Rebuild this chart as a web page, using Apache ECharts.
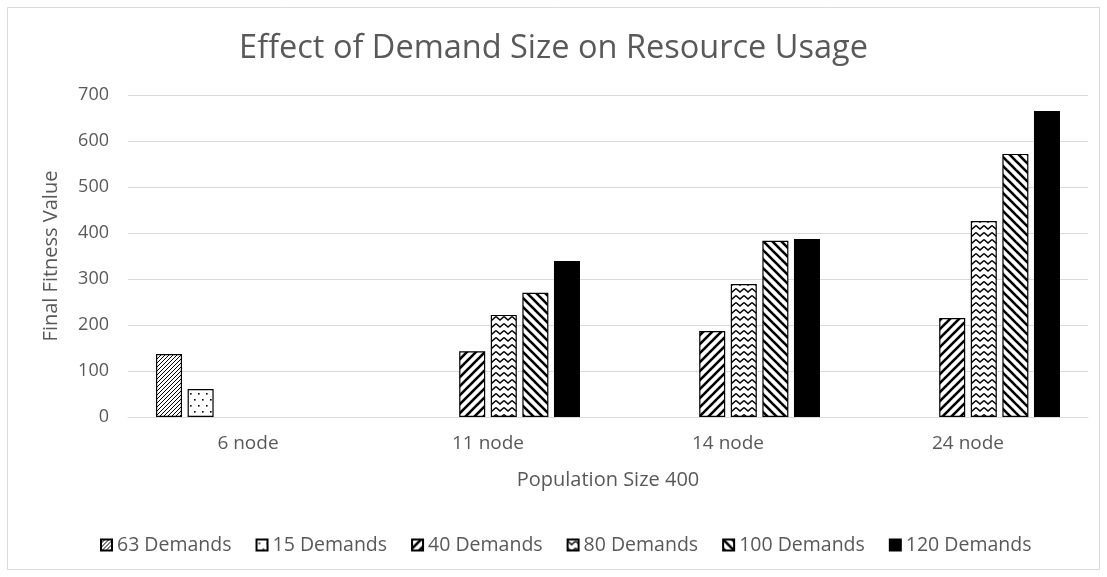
<!DOCTYPE html>
<html>
<head>
<meta charset="utf-8">
<script src="https://cdn.jsdelivr.net/npm/echarts@6/dist/echarts.min.js"></script>
<style>
  html, body { margin: 0; padding: 0; background: #fff; }
  #chart { width: 1107px; height: 577px; }
</style>
</head>
<body>
<div id="chart"></div>
<script>
// Network sizes on the x axis
const categories = ['6 node', '11 node', '14 node', '24 node'];

// Final fitness value per demand set (null where a network was not run)
const demands63  = [137, null, null, null];
const demands15  = [61, null, null, null];
const demands40  = [null, 143, 187, 215];
const demands80  = [null, 222, 289, 426];
const demands100 = [null, 270, 383, 572];
const demands120 = [null, 339, 387, 665];

const yTicks = { min: 0, max: 700, interval: 100 };

// ---- hatch fills drawn on small tiles ----
function tile(w, h, draw) {
  const c = document.createElement('canvas');
  c.width = w; c.height = h;
  const g = c.getContext('2d');
  g.fillStyle = '#fff';
  g.fillRect(0, 0, w, h);
  g.strokeStyle = '#000';
  g.fillStyle = '#000';
  draw(g, w, h);
  return { image: c, repeat: 'repeat' };
}
function diagonal(size, width, rising) {
  return tile(size, size, (g, s) => {
    g.lineWidth = width;
    g.lineCap = 'square';
    for (let k = -1; k <= 1; k++) {
      g.beginPath();
      if (rising) { g.moveTo(k * s, s); g.lineTo(k * s + s, 0); }
      else { g.moveTo(k * s, 0); g.lineTo(k * s + s, s); }
      g.stroke();
    }
  });
}
const fineHatch = diagonal(4, 1, true);
const wideUp = diagonal(9, 2.6, true);
const wideDown = diagonal(9, 2.6, false);
const dots = tile(8, 12, (g) => {
  g.fillRect(2, 3, 1.6, 1.6);
  g.fillRect(6, 9, 1.6, 1.6);
});
const zigzag = tile(8, 7, (g) => {
  g.lineWidth = 1.4;
  g.beginPath();
  g.moveTo(0, 1.5); g.lineTo(4, 5); g.lineTo(8, 1.5);
  g.stroke();
});

const seriesDefs = [
  { name: '63 Demands', data: demands63, fill: fineHatch },
  { name: '15 Demands', data: demands15, fill: dots },
  { name: '40 Demands', data: demands40, fill: wideUp },
  { name: '80 Demands', data: demands80, fill: zigzag },
  { name: '100 Demands', data: demands100, fill: wideDown },
  { name: '120 Demands', data: demands120, fill: '#000' }
];

const textColor = '#595959';
const font = 'Open Sans';

const chart = echarts.init(document.getElementById('chart'), null, { renderer: 'canvas' });
chart.setOption({
  animation: false,
  backgroundColor: '#fff',
  title: {
    text: 'Effect of Demand Size on Resource Usage',
    left: 'center',
    top: 27,
    textStyle: { color: textColor, fontFamily: font, fontSize: 32.5, fontWeight: 'normal' }
  },
  legend: {
    left: 95,
    top: 530,
    itemWidth: 11,
    itemHeight: 11,
    itemGap: 24,
    icon: 'rect',
    textStyle: { color: textColor, fontFamily: font, fontSize: 19.5 },
    data: seriesDefs.map(s => s.name)
  },
  grid: { left: 128, right: 19, top: 95, bottom: 160, containLabel: false },
  xAxis: {
    type: 'category',
    data: categories,
    name: 'Population Size 400',
    nameLocation: 'middle',
    nameGap: 53,
    nameTextStyle: { color: textColor, fontFamily: font, fontSize: 20 },
    axisLine: { lineStyle: { color: '#d9d9d9', width: 1 } },
    axisTick: { show: false },
    axisLabel: { color: textColor, fontFamily: font, fontSize: 19, margin: 17 }
  },
  yAxis: {
    type: 'value',
    min: yTicks.min,
    max: yTicks.max,
    interval: yTicks.interval,
    name: 'Final Fitness Value',
    nameLocation: 'middle',
    nameGap: 67,
    nameTextStyle: { color: textColor, fontFamily: font, fontSize: 20 },
    axisLine: { show: false },
    axisTick: { show: false },
    axisLabel: { color: textColor, fontFamily: font, fontSize: 18, margin: 19 },
    splitLine: { lineStyle: { color: '#d9d9d9', width: 1 } }
  },
  series: seriesDefs.map(s => ({
    name: s.name,
    type: 'bar',
    data: s.data,
    barWidth: 26,
    barGap: '21.5%',
    itemStyle: { color: s.fill, borderColor: '#000', borderWidth: 1.2 },
    emphasis: { disabled: true }
  })),
  graphic: [{
    type: 'rect',
    shape: { x: 7.5, y: 7.5, width: 1092, height: 562 },
    style: { fill: 'none', stroke: '#d9d9d9', lineWidth: 1 },
    silent: true
  }]
});
</script>
</body>
</html>
